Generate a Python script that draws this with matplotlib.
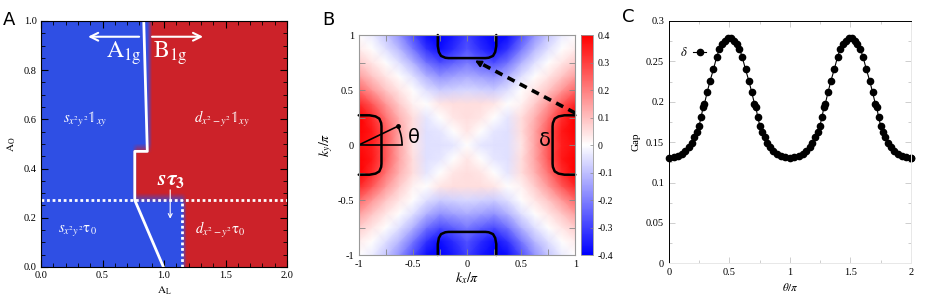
import numpy as np
import matplotlib
matplotlib.use("Agg")
import matplotlib.pyplot as plt
from matplotlib.colors import LinearSegmentedColormap
from matplotlib.ticker import MultipleLocator, FuncFormatter
from matplotlib.patches import Arc

plt.rcParams['font.family'] = ['Liberation Serif', 'DejaVu Serif']
plt.rcParams['mathtext.fontset'] = 'stix'

# ---------------- panel A : phase diagram ----------------
phase_ao_edges = [0.0, 0.272, 0.47, 1.0]   # A_O intervals
phase_al_split = [1.146, 0.77, 0.865]      # A1g (blue) left of this, B1g (red) right
boundary_al = [0.835, 0.864, 0.762, 0.762, 0.995]
boundary_ao = [1.0, 0.47, 0.47, 0.272, 0.0]
sep_ao = 0.272
sep_al = 1.146

# ---------------- panel B : gap on the Brillouin zone (one quadrant) ----------------
k_quad = [0.0, 0.125, 0.25, 0.375, 0.5, 0.625, 0.75, 0.875, 1.0]
gap_quad = [  # rows: ky = 0 .. 1, cols: kx = 0 .. 1
    [0.00, -0.04, -0.05, -0.05, 0.04, 0.14, 0.26, 0.35, 0.38],
    [0.04, 0.00, -0.04, -0.05, 0.05, 0.14, 0.26, 0.36, 0.40],
    [0.05, 0.04, 0.00, -0.04, 0.05, 0.12, 0.22, 0.33, 0.40],
    [0.05, 0.05, 0.04, 0.00, 0.02, 0.08, 0.16, 0.26, 0.34],
    [-0.06, -0.07, -0.08, -0.05, 0.00, 0.04, 0.09, 0.16, 0.24],
    [-0.13, -0.15, -0.17, -0.12, -0.05, 0.00, 0.04, 0.09, 0.15],
    [-0.21, -0.25, -0.28, -0.22, -0.12, -0.05, 0.00, 0.04, 0.08],
    [-0.27, -0.33, -0.38, -0.32, -0.21, -0.11, -0.05, 0.00, 0.03],
    [-0.30, -0.36, -0.40, -0.38, -0.28, -0.17, -0.09, -0.03, 0.00],
]
pocket_u = [-0.27, -0.27, -0.26, -0.24, -0.20, -0.17, 0.0, 0.17, 0.20, 0.24, 0.26, 0.27, 0.27]
pocket_v = [1.0, 0.90, 0.845, 0.81, 0.793, 0.79, 0.79, 0.79, 0.793, 0.81, 0.845, 0.90, 1.0]

# ---------------- panel C : gap along the pocket ----------------
theta_quarter = [0.000, 0.037, 0.073, 0.106, 0.136, 0.163, 0.187, 0.209, 0.229, 0.248,
                 0.266, 0.281, 0.293, 0.316, 0.339, 0.367, 0.395, 0.417, 0.441, 0.463, 0.487]
gap_quarter = [0.1307, 0.1313, 0.1330, 0.1358, 0.1395, 0.1440, 0.1495, 0.1560, 0.1625, 0.1700,
               0.1810, 0.1930, 0.1975, 0.2120, 0.2257, 0.2400, 0.2558, 0.2653, 0.2715, 0.2756, 0.2786]

fig = plt.figure(figsize=(9.26, 3.02), dpi=100)

# ===== A =====
axa = fig.add_axes([0.0443, 0.1159, 0.2657, 0.8146])
al_grid = np.arange(0.02, 2.0, 0.04)
ao_grid = np.arange(0.02, 1.0, 0.04)
phase = np.zeros((len(ao_grid), len(al_grid)))
for i, y in enumerate(ao_grid):
    for k in range(3):
        if phase_ao_edges[k] <= y < phase_ao_edges[k + 1]:
            phase[i] = al_grid > phase_al_split[k]
cmap_ab = LinearSegmentedColormap.from_list("ab", ["#2f4fe4", "#cc2229"])
axa.imshow(phase, extent=[0, 2, 0, 1], origin='lower', aspect='auto',
           cmap=cmap_ab, vmin=0, vmax=1, interpolation='bilinear')
axa.plot(boundary_al, boundary_ao, color='white', lw=2)
axa.plot([0, 2], [sep_ao, sep_ao], color='white', lw=2, dashes=(1, 1))
axa.plot([sep_al, sep_al], [0, sep_ao], color='white', lw=2, dashes=(1, 1))
axa.annotate('', xy=(0.36, 0.936), xytext=(0.82, 0.936),
             arrowprops=dict(arrowstyle='->', color='white', lw=1.5, mutation_scale=14))
axa.annotate('', xy=(1.34, 0.936), xytext=(0.88, 0.936),
             arrowprops=dict(arrowstyle='->', color='white', lw=1.5, mutation_scale=14))
axa.text(0.82, 0.87, r'$\mathrm{A}_{\mathrm{1g}}$', color='white', fontsize=17, ha='right', va='center')
axa.text(0.91, 0.87, r'$\mathrm{B}_{\mathrm{1g}}$', color='white', fontsize=17, ha='left', va='center')
axa.text(0.36, 0.6, r'$s_{x^2y^2}\mathbb{1}_{xy}$', color='white', fontsize=10.5, ha='center', va='center')
axa.text(1.47, 0.6, r'$d_{x^2-y^2}\mathbb{1}_{xy}$', color='white', fontsize=10.5, ha='center', va='center')
axa.text(0.30, 0.15, r'$s_{x^2y^2}\mathrm{\tau}_0$', color='white', fontsize=10.5, ha='center', va='center')
axa.text(1.46, 0.15, r'$d_{x^2-y^2}\mathrm{\tau}_0$', color='white', fontsize=10.5, ha='center', va='center')
axa.text(1.055, 0.35, r'$\mathbfit{s\tau}_\mathbf{3}$', color='white', fontsize=16, ha='center', va='center')
axa.annotate('', xy=(1.05, 0.185), xytext=(1.05, 0.325),
             arrowprops=dict(arrowstyle='->', color='white', lw=0.8, mutation_scale=7))
axa.set_xlim(0, 2)
axa.set_ylim(0, 1)
axa.xaxis.set_major_locator(MultipleLocator(0.5))
axa.xaxis.set_minor_locator(MultipleLocator(0.1))
axa.yaxis.set_major_locator(MultipleLocator(0.2))
axa.yaxis.set_minor_locator(MultipleLocator(0.05))
axa.xaxis.set_major_formatter(FuncFormatter(lambda v, p: f"{v:.1f}"))
axa.yaxis.set_major_formatter(FuncFormatter(lambda v, p: f"{v:.1f}"))
axa.tick_params(which='both', direction='in', top=True, right=True, labelsize=7.5, pad=3)
axa.tick_params(which='major', length=5, width=0.8)
axa.tick_params(which='minor', length=3, width=0.6)
axa.set_xlabel(r'$\mathrm{A_L}$', fontsize=8, labelpad=3)
axa.set_ylabel(r'$\mathrm{A_O}$', fontsize=8, labelpad=4)
for s in axa.spines.values():
    s.set_linewidth(0.8)

# ===== B =====
axb = fig.add_axes([0.3874, 0.1556, 0.2339, 0.7285])
q = np.array(gap_quad)
full = np.hstack([q[:, :0:-1], q])
full = np.vstack([full[:0:-1], full])
k_full = np.concatenate([-np.array(k_quad[:0:-1]), np.array(k_quad)])
KX, KY = np.meshgrid(k_full, k_full)
pcm = axb.pcolormesh(KX, KY, full, shading='gouraud', cmap='bwr', vmin=-0.4, vmax=0.4)
pu = np.array(pocket_u)
pv = np.array(pocket_v)
for xs, ys in [(pu, pv), (pu, -pv), (pv, pu), (-pv, pu)]:
    axb.plot(xs, ys, color='black', lw=1.8, solid_capstyle='round', clip_on=False)
# theta construction on the left pocket
axb.plot([-1, -0.6], [0, 0], color='black', lw=1.2)
axb.plot([-1, -0.64], [0, 0.17], color='black', lw=1.2)
axb.plot([-0.64], [0.17], 'ko', ms=2.5)
axb.add_patch(Arc((-1, 0), 0.8, 0.8, theta1=0, theta2=25.3, color='black', lw=1.2))
axb.text(-0.49, 0.07, 'θ', fontsize=14, family='DejaVu Sans', ha='center', va='center')
axb.text(0.72, 0.04, 'δ', fontsize=14, family='DejaVu Sans', ha='center', va='center')
axb.plot([1.0, 0.13], [0.29, 0.74], color='black', lw=2.6, dashes=(2.2, 1.6), clip_on=False)
axb.annotate('', xy=(0.05, 0.78), xytext=(0.15, 0.728),
             arrowprops=dict(arrowstyle='-|>', color='black', lw=1.5, mutation_scale=9))
axb.set_xlim(-1, 1)
axb.set_ylim(-1, 1)
for a in (axb.xaxis, axb.yaxis):
    a.set_major_locator(MultipleLocator(0.5))
    a.set_minor_locator(MultipleLocator(0.25))
    a.set_major_formatter(FuncFormatter(lambda v, p: f"{v:g}"))
axb.tick_params(which='both', direction='in', top=True, right=True, labelsize=7.5,
                color='#888888', length=4, width=0.6)
axb.set_xlabel(r'$k_x/\pi$', fontsize=10, labelpad=1)
axb.set_ylabel(r'$k_y/\pi$', fontsize=10, labelpad=2)
for s in axb.spines.values():
    s.set_color('#999999')
    s.set_linewidth(0.8)

cax = fig.add_axes([0.6274, 0.1556, 0.0126, 0.7285])
cb = fig.colorbar(pcm, cax=cax, ticks=np.round(np.arange(-0.4, 0.41, 0.1), 1))
cb.ax.yaxis.set_major_formatter(FuncFormatter(lambda v, p: f"{v:g}" if abs(v) > 1e-9 else "0"))
cb.ax.tick_params(labelsize=7, length=2.5, width=0.5, color='#888888', direction='in')
cb.outline.set_edgecolor('#999999')
cb.outline.set_linewidth(0.6)

# ===== C =====
axc = fig.add_axes([0.7225, 0.1281, 0.261, 0.8024])
tq = np.array(theta_quarter)
gq = np.array(gap_quarter)
theta_half = np.concatenate([tq, 1 - tq[::-1]])
gap_half = np.concatenate([gq, gq[::-1]])
theta = np.concatenate([theta_half, 1 + theta_half[1:], [2.0]])
gap = np.concatenate([gap_half, gap_half[1:], [gap_quarter[0]]])
axc.plot(theta, gap, '-o', color='black', lw=0.8, ms=4.5, label=r'$\delta$', clip_on=False)
axc.legend(loc='upper left', bbox_to_anchor=(0.045, 0.895), frameon=False, markerfirst=False,
           handlelength=1.1, handletextpad=0.4, borderpad=0, borderaxespad=0, fontsize=9)
axc.set_xlim(0, 2)
axc.set_ylim(0, 0.3)
axc.xaxis.set_major_locator(MultipleLocator(0.5))
axc.xaxis.set_minor_locator(MultipleLocator(0.25))
axc.yaxis.set_major_locator(MultipleLocator(0.05))
axc.yaxis.set_minor_locator(MultipleLocator(0.025))
axc.xaxis.set_major_formatter(FuncFormatter(lambda v, p: f"{v:g}"))
axc.yaxis.set_major_formatter(FuncFormatter(lambda v, p: f"{v:g}"))
axc.tick_params(which='both', direction='in', top=True, right=True, labelsize=7.5,
                color='#bbbbbb', width=0.5)
axc.tick_params(which='major', length=4)
axc.tick_params(which='minor', length=2)
axc.set_xlabel(r'$\theta/\pi$', fontsize=8, labelpad=3)
axc.set_ylabel('Gap', fontsize=8, labelpad=4)
axc.spines['left'].set_color('black')
axc.spines['top'].set_color('black')
axc.spines['right'].set_color('#e8e8e8')
axc.spines['bottom'].set_color('#e8e8e8')
for s in axc.spines.values():
    s.set_linewidth(0.7)

# panel letters
fig.text(0.003, 0.965, 'A', fontsize=13, family='DejaVu Sans', va='top')
fig.text(0.348, 0.965, 'B', fontsize=13, family='DejaVu Sans', va='top')
fig.text(0.672, 0.975, 'C', fontsize=13, family='DejaVu Sans', va='top')

fig.savefig("out.png", dpi=100)
